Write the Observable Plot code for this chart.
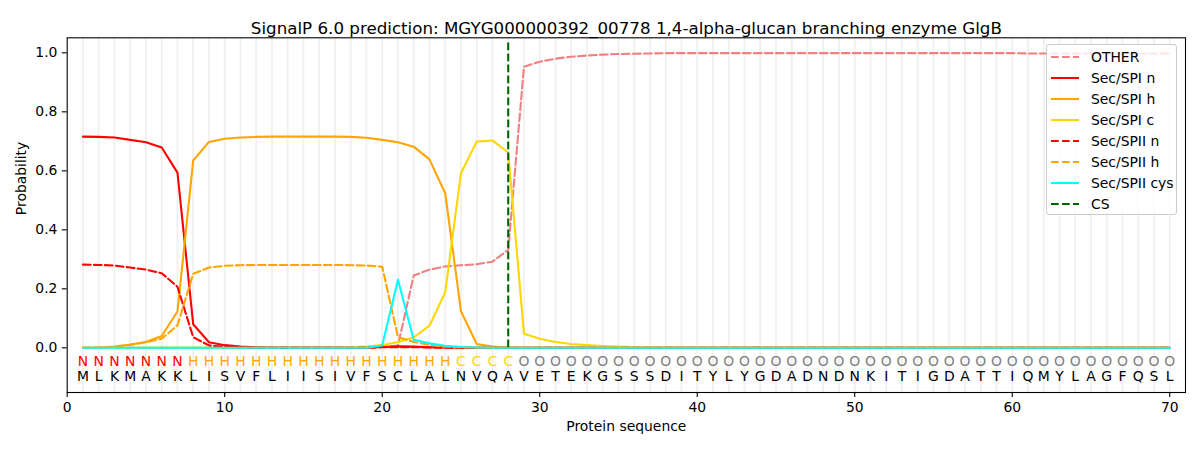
<!DOCTYPE html>
<html>
<head>
<meta charset="utf-8">
<script src="https://cdn.jsdelivr.net/npm/d3@7"></script>
<script src="https://cdn.jsdelivr.net/npm/@observablehq/plot@0.6"></script>
<style>
  body { margin: 0; background: #fff; }
  #wrap { position: relative; width: 1200px; height: 450px; font-family: "DejaVu Sans", sans-serif; }
  #legend { position: absolute; left: 1046px; top: 44px; width: 131px; height: 171px;
    background: rgba(255,255,255,0.8); border: 1px solid #cccccc; border-radius: 3px; box-sizing: border-box; }
  .row { position: absolute; left: 0; height: 21px; display: flex; align-items: center; font-size: 13.9px; color: #000; }
  .row svg { margin-left: 4px; margin-right: 12px; }
</style>
</head>
<body>
<div id="wrap"></div>
<script>
const title = "SignalP 6.0 prediction: MGYG000000392_00778 1,4-alpha-glucan branching enzyme GlgB";
const sequence = "MLKMAKKLISVFLIISIVFSCLALNVQAVETEKGSSSDITYLYGDADNDNKITIGDATTIQMYLAGFQSL".split("");
const regions = "NNNNNNNHHHHHHHHHHHHHHHHHCCCCOOOOOOOOOOOOOOOOOOOOOOOOOOOOOOOOOOOOOOOOOO".split("");
const csPosition = 28;
const xTicks = [0, 10, 20, 30, 40, 50, 60, 70];
const yTicks = [0, 0.2, 0.4, 0.6, 0.8, 1.0];

const other = [0,0,0,0,0,0,0,0,0,0, 0,0,0,0,0,0,0,0,0,0.002,
  0.008,0.245,0.265,0.276,0.280,0.283,0.292,0.332,0.953,0.970,
  0.980,0.987,0.991,0.994,0.996,0.997,0.998,0.999,0.999,0.999,
  0.999,0.999,0.999,0.999,0.999,0.999,0.999,0.999,0.999,0.999,
  0.999,0.999,0.999,0.999,0.999,0.999,0.999,0.999,0.999,0.999,
  0.998,0.998,0.998,0.998,0.998,0.998,0.998,0.998,0.998,0.998];
const spiN = [0.716,0.715,0.713,0.705,0.697,0.679,0.594,0.080,0.019,0.009,
  0.004,0.002,0.001,0.001,0.001,0.001,0.001,0.001,0.001,0.003,
  0.005,0.004,0.002,0.001,0,0,0,0,0,0,
  0,0,0,0,0,0,0,0,0,0, 0,0,0,0,0,0,0,0,0,0, 0,0,0,0,0,0,0,0,0,0, 0,0,0,0,0,0,0,0,0,0];
const spiH = [0.000,0.001,0.004,0.011,0.020,0.040,0.123,0.635,0.698,0.709,
  0.713,0.715,0.716,0.716,0.716,0.716,0.716,0.715,0.712,0.705,
  0.697,0.682,0.639,0.524,0.124,0.013,0.004,0.001,0,0,
  0,0,0,0,0,0,0,0,0,0, 0,0,0,0,0,0,0,0,0,0, 0,0,0,0,0,0,0,0,0,0, 0,0,0,0,0,0,0,0,0,0];
const spiC = [0,0,0,0,0,0,0,0,0,0, 0,0,0,0,0,0,0,0.002,0.004,0.009,
  0.020,0.035,0.075,0.188,0.592,0.699,0.703,0.662,0.048,0.031,
  0.020,0.013,0.009,0.006,0.004,0.003,0.002,0.001,0,0,
  0,0,0,0,0,0,0,0,0,0, 0,0,0,0,0,0,0,0,0,0, 0,0,0,0,0,0,0,0,0,0];
const spiiN = [0.282,0.281,0.279,0.272,0.265,0.253,0.207,0.036,0.008,0.003,
  0.001,0,0,0,0,0,0,0,0.001,0.002,
  0.002,0.002,0.001,0,0,0,0,0,0,0,
  0,0,0,0,0,0,0,0,0,0, 0,0,0,0,0,0,0,0,0,0, 0,0,0,0,0,0,0,0,0,0, 0,0,0,0,0,0,0,0,0,0];
const spiiH = [0.000,0.001,0.003,0.010,0.019,0.031,0.076,0.251,0.272,0.278,
  0.280,0.281,0.281,0.281,0.281,0.281,0.281,0.280,0.279,0.275,
  0.036,0.020,0.010,0.004,0.002,0.001,0,0,0,0,
  0,0,0,0,0,0,0,0,0,0, 0,0,0,0,0,0,0,0,0,0, 0,0,0,0,0,0,0,0,0,0, 0,0,0,0,0,0,0,0,0,0];
const spiiCys = [0,0,0,0,0,0,0,0,0,0, 0,0,0,0,0,0,0,0,0,0.008,
  0.231,0.027,0.015,0.007,0.003,0.001,0,0,0,0,
  0,0,0,0,0,0,0,0,0,0, 0,0,0,0,0,0,0,0,0,0, 0,0,0,0,0,0,0,0,0,0, 0,0,0,0,0,0,0,0,0,0];

const series = [
  {name: "OTHER", values: other, color: "#f08080", dash: true},
  {name: "Sec/SPI n", values: spiN, color: "#ff0000", dash: false},
  {name: "Sec/SPI h", values: spiH, color: "#ffa500", dash: false},
  {name: "Sec/SPI c", values: spiC, color: "#ffd700", dash: false},
  {name: "Sec/SPII n", values: spiiN, color: "#ff0000", dash: true},
  {name: "Sec/SPII h", values: spiiH, color: "#ffa500", dash: true},
  {name: "Sec/SPII cys", values: spiiCys, color: "#00ffff", dash: false}
];
const regionColor = {N: "#ff0000", H: "#ffa500", C: "#ffd700", O: "#808080"};
const DASH = "7.7,3.3";
const LW = 2.08;

const positions = sequence.map((_, i) => i + 1);
const residues = sequence.map((aa, i) => ({pos: i + 1, aa, region: regions[i]}));

const marks = [
  Plot.ruleX(positions, {x: d => d, stroke: "#f0f0f0", strokeWidth: 1.8}),
];
for (const s of series) {
  marks.push(Plot.line(s.values.map((v, i) => ({pos: i + 1, v})), {
    x: "pos", y: "v", stroke: s.color, strokeWidth: LW,
    strokeDasharray: s.dash ? DASH : null
  }));
}
marks.push(
  Plot.ruleX([csPosition], {x: d => d, y1: 0, y2: 1.035, stroke: "#006400", strokeWidth: LW, strokeDasharray: DASH}),
  Plot.text(residues, {x: "pos", y: () => -0.048, text: "region", fill: d => regionColor[d.region], fontSize: 13.9}),
  Plot.text(residues, {x: "pos", y: () => -0.099, text: "aa", fill: "#000", fontSize: 13.9}),
  Plot.frame({stroke: "#000", strokeWidth: 1.1}),
  Plot.axisX({ticks: xTicks, tickSize: 4.9, tickPadding: 5, tickFormat: d3.format("d"), fontSize: 13.9, label: null, stroke: "#000", strokeWidth: 1.1}),
  Plot.axisY({ticks: yTicks, tickSize: 4.9, tickPadding: 4.9, tickFormat: d3.format(".1f"), fontSize: 13.9, label: null, stroke: "#000", strokeWidth: 1.1}),
  Plot.text(["Protein sequence"], {frameAnchor: "bottom", dy: 38.5, text: d => d, fontSize: 13.9, fill: "#000"}),
  Plot.text(["Probability"], {frameAnchor: "left", dx: -45.5, rotate: -90, text: d => d, fontSize: 13.9, fill: "#000"}),
  Plot.text([title], {frameAnchor: "top", dy: -16, text: d => d, fontSize: 16.7, fill: "#000"})
);

const chart = Plot.plot({
  width: 1200,
  height: 450,
  marginLeft: 66.7,
  marginRight: 15,
  marginTop: 37.3,
  marginBottom: 58,
  x: {domain: [0, 71]},
  y: {domain: [-0.1515, 1.051]},
  style: {fontFamily: "DejaVu Sans, sans-serif", fontSize: "13.9px", color: "#000", background: "#fff"},
  marks
});
const wrap = document.getElementById("wrap");
wrap.appendChild(chart);

const legendItems = series.map(s => ({name: s.name, color: s.color, dash: s.dash}))
  .concat([{name: "CS", color: "#006400", dash: true}]);
const legend = document.createElement("div");
legend.id = "legend";
legendItems.forEach((it, i) => {
  const row = document.createElement("div");
  row.className = "row";
  row.style.top = (1.5 + i * 21) + "px";
  row.innerHTML = `<svg width="28" height="10"><line x1="0" y1="5" x2="28" y2="5" stroke="${it.color}" stroke-width="${LW}" ${it.dash ? `stroke-dasharray="${DASH}"` : ""}/></svg><span>${it.name}</span>`;
  legend.appendChild(row);
});
wrap.appendChild(legend);
</script>
</body>
</html>
